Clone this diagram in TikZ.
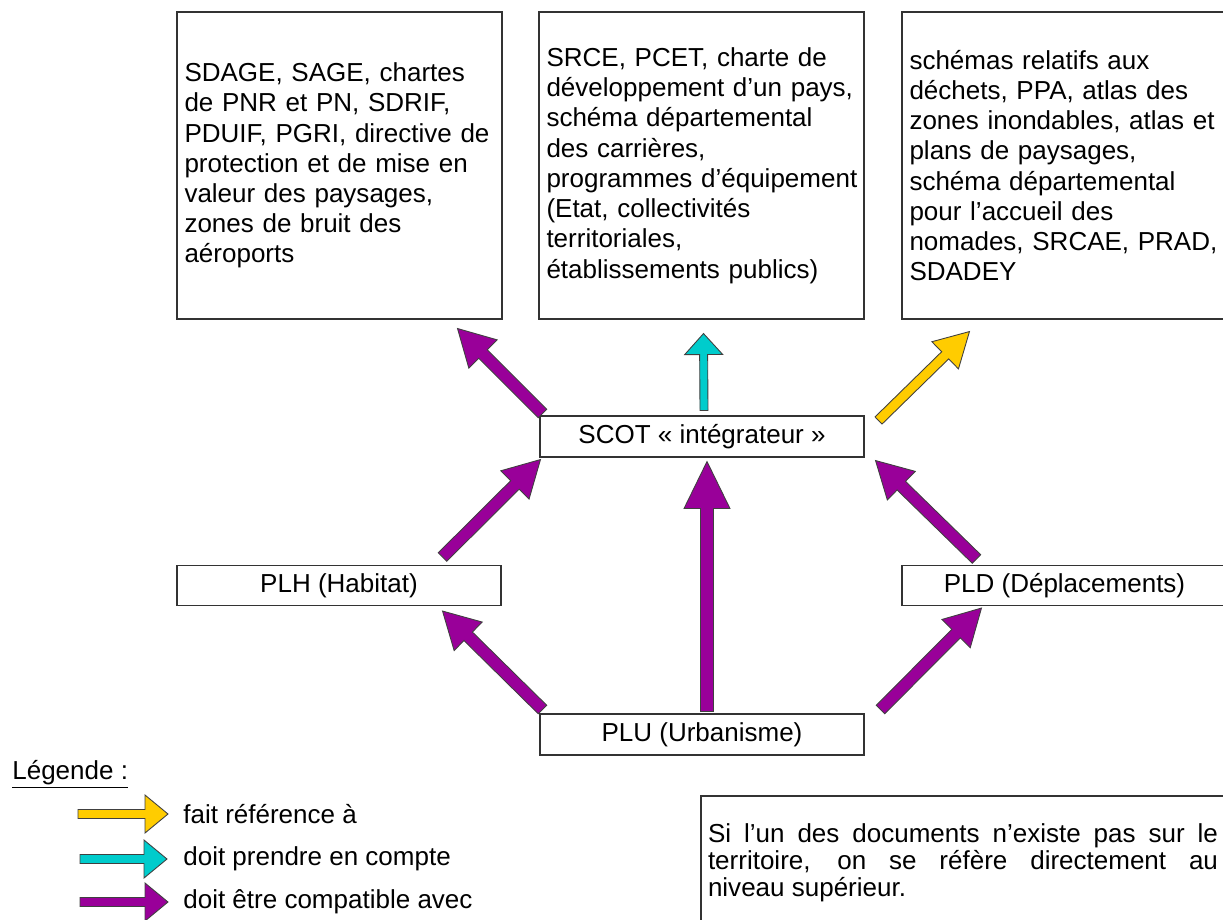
\documentclass[tikz,border=0pt]{standalone}
\usepackage{fontspec}
\setmainfont{Liberation Sans}
\usetikzlibrary{calc,positioning}
\definecolor{compatpurple}{HTML}{990099}
\definecolor{prisecyan}{HTML}{00CCCC}
\definecolor{refyellow}{HTML}{FFCC00}

% block arrow: style, tail, tip, shaft half width, head half width, head length
\newcommand{\blockarr}[6]{%
  \coordinate (ba-a) at #2;
  \coordinate (ba-b) at #3;
  \coordinate (ba-n) at ($(ba-b)!#6!(ba-a)$);
  \draw[#1] ($(ba-a)!#4!90:(ba-b)$) -- ($(ba-n)!#4!90:(ba-b)$)
    -- ($(ba-n)!#5!90:(ba-b)$) -- (ba-b) -- ($(ba-n)!#5!-90:(ba-b)$)
    -- ($(ba-n)!#4!-90:(ba-b)$) -- ($(ba-a)!#4!-90:(ba-b)$) -- cycle;}

\begin{document}
\begin{tikzpicture}[
    font=\fontsize{14.8}{17.2}\selectfont,
    docbox/.style={draw=black!80, line width=0.6pt, inner xsep=0.15cm, text width=6.2cm, minimum height=6.14cm, align=left},
    levelbox/.style={draw=black!80, line width=0.6pt, minimum width=6.48cm, minimum height=0.8cm, inner sep=0pt},
    compat/.style={fill=compatpurple, draw=black!75, line width=0.5pt},
    prise/.style={fill=prisecyan, draw=black!75, line width=0.5pt},
    reference/.style={fill=refyellow, draw=black!75, line width=0.5pt},
    legtext/.style={anchor=west, inner sep=0pt}
  ]
		\useasboundingbox (0,0) rectangle (24.46,-18.38);

		% Documents above the SCOT
		\node[docbox] (sdage) at (6.79,-3.31) {SDAGE, SAGE, chartes\\de PNR et PN, SDRIF,\\PDUIF, PGRI, directive de\\protection et de mise en\\valeur des paysages,\\zones de bruit des\\aéroports};
		\node[docbox] (srce) at (14.03,-3.31) {SRCE, PCET, charte de\\développement d’un pays,\\schéma départemental\\des carrières,\\programmes~d’équipement\\(Etat, collectivités\\territoriales,\\établissements publics)};
		\node[docbox] (schemas) at (21.29,-3.31) {schémas relatifs aux\\déchets, PPA, atlas des\\zones inondables, atlas et\\plans de paysages,\\schéma départemental\\pour l’accueil des\\nomades, SRCAE, PRAD,\\SDADEY};

		% Local documents
		\node[levelbox, minimum height=0.82cm] (scot) at (14.04,-8.73) {SCOT « intégrateur »};
		\node[levelbox] (plh) at (6.78,-11.71) {PLH (Habitat)};
		\node[levelbox, minimum width=6.5cm] (pld) at (21.29,-11.71) {PLD (Déplacements)};
		\node[levelbox, minimum height=0.82cm] (plu) at (14.04,-14.69) {PLU (Urbanisme)};

		% Arrows from the SCOT
		\blockarr{compat}{($(scot.north west)+(0.06,0.04)$)}{($(sdage.south east)+(-0.9,-0.18)$)}{0.12cm}{0.4cm}{0.72cm}
		\blockarr{prise}{($(scot.north)+(0.04,0.1)$)}{($(srce.south)+(0.04,-0.28)$)}{0.08cm}{0.38cm}{0.42cm}
		\blockarr{reference}{($(scot.north east)+(0.28,-0.1)$)}{($(schemas.south west)+(1.36,-0.24)$)}{0.1cm}{0.38cm}{0.68cm}

		% Arrows towards the SCOT
		\blockarr{compat}{($(plh.north east)+(-1.18,0.16)$)}{($(scot.south west)+(0.02,-0.04)$)}{0.12cm}{0.4cm}{0.72cm}
		\blockarr{compat}{($(plu.north)+(0.1,0.04)$)}{($(scot.south)+(0.1,-0.08)$)}{0.13cm}{0.46cm}{0.94cm}
		\blockarr{compat}{($(pld.north west)+(1.5,0.12)$)}{($(scot.south east)+(0.22,-0.06)$)}{0.12cm}{0.4cm}{0.72cm}

		% Arrows from the PLU
		\blockarr{compat}{($(plu.north west)+(0.06,0.08)$)}{($(plh.south east)+(-1.18,-0.1)$)}{0.12cm}{0.4cm}{0.72cm}
		\blockarr{compat}{($(plu.north east)+(0.32,0.08)$)}{($(pld.south west)+(1.6,-0.04)$)}{0.12cm}{0.4cm}{0.72cm}

		% Legend
		\node[legtext] (legende) at (0.24,-15.48) {\underline{Légende :}};
		\node[legtext] (lref) at (3.66,-16.28) {fait référence à};
		\node[legtext] (lprise) at (3.66,-17.18) {doit prendre en compte};
		\node[legtext] (lcompat) at (3.66,-18.04) {doit être compatible avec};
		\blockarr{reference}{($(lref.west)+(-2.1,0)$)}{($(lref.west)+(-0.3,0)$)}{0.09cm}{0.38cm}{0.46cm}
		\blockarr{prise}{($(lprise.west)+(-2.06,0)$)}{($(lprise.west)+(-0.32,0)$)}{0.09cm}{0.38cm}{0.46cm}
		\blockarr{compat}{($(lcompat.west)+(-2.06,0)$)}{($(lcompat.west)+(-0.3,0)$)}{0.09cm}{0.38cm}{0.46cm}

		% Note
		\node[draw=black!80, line width=0.6pt, inner xsep=0.14cm, text width=10.2cm, minimum height=2.68cm, align=justify, font=\fontsize{14.8}{15.4}\selectfont] (note) at (19.26,-17.26) {Si l’un des documents n’existe pas sur le\linebreak territoire, on se réfère directement au\linebreak niveau supérieur.};
	\end{tikzpicture}
\end{document}
